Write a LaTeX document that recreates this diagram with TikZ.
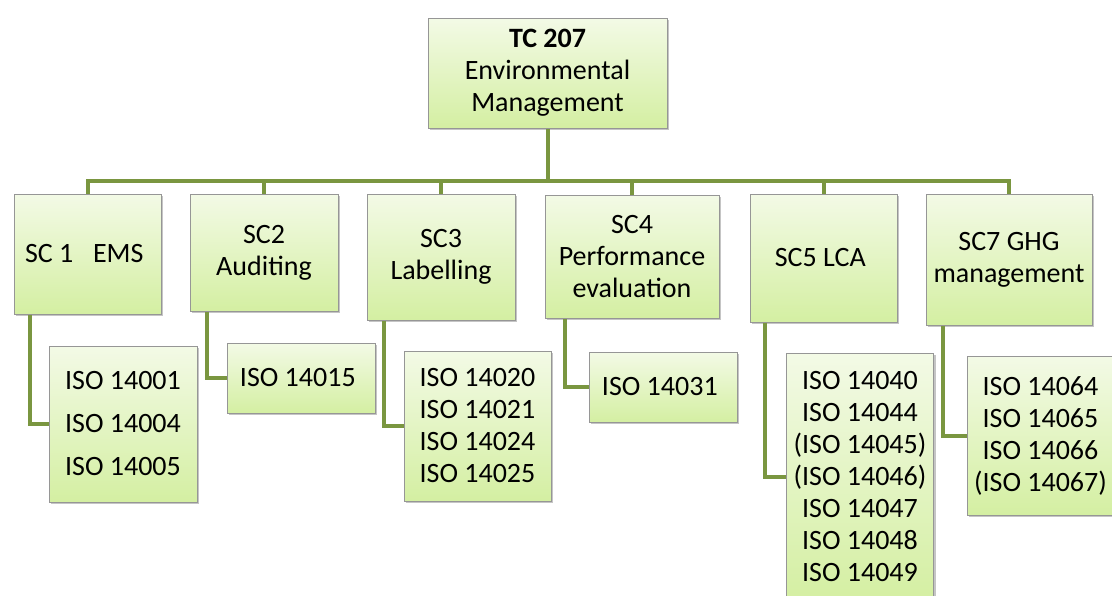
\documentclass[tikz,border=0pt]{standalone}
\usepackage{fontspec}
\setmainfont{Carlito}
\usepackage{tikz}
\usetikzlibrary{shadows, calc, positioning}

\definecolor{boxtop}{RGB}{243,250,230}
\definecolor{boxbot}{RGB}{212,239,162}
\definecolor{boxline}{RGB}{150,150,150}
\definecolor{linkgreen}{RGB}{122,150,64}

\begin{document}
\begin{tikzpicture}[x=1pt, y=-1pt,
        sbox/.style={draw=boxline, line width=1pt, top color=boxtop, bottom color=boxbot,
            drop shadow={shadow xshift=2pt, shadow yshift=-2pt, fill=black!45},
            align=center, inner sep=0pt, font=\fontsize{28}{32}\selectfont},
        link/.style={draw=linkgreen, line width=4pt}]
                \useasboundingbox (0,0) rectangle (1112,595);
                \clip (0,0) rectangle (1112,595);
                \fill [white] (0,0) rectangle (1112,595);

                % top of the tree
                \node [sbox, minimum width=239pt, minimum height=110pt] (tc) at (547.5,73) { \textbf{TC 207}\\Environmental\\Management };

                % subcommittees
                \node [sbox, minimum width=147pt, minimum height=120pt] (sc1) at (87.5,254) { SC 1\hspace{0.7em}EMS };
                \node [sbox, minimum width=148pt, minimum height=117pt] (sc2) at (264,252.5) { SC2\\Auditing };
                \node [sbox, minimum width=148pt, minimum height=126pt] (sc3) at (441,257) { SC3\\Labelling };
                \node [sbox, minimum width=174pt, minimum height=123pt] (sc4) at (632,256.5) { SC4\\Performance\\evaluation };
                \node [sbox, minimum width=147pt, minimum height=128pt] (sc5) at (823.5,258) { SC5 LCA };
                \node [sbox, minimum width=166pt, minimum height=131pt] (sc7) at (1009,259.5) { SC7 GHG\\management };

                % standards
                \node [sbox, minimum width=148pt, minimum height=156pt, font=\fontsize{28}{43}\selectfont] (iso1) at (123,424) { ISO 14001\\ISO 14004\\ISO 14005 };
                \node [sbox, minimum width=148pt, minimum height=70pt] (iso2) at (301,378) { ISO 14015 };
                \node [sbox, minimum width=147pt, minimum height=150pt] (iso3) at (477.5,426) { ISO 14020\\ISO 14021\\ISO 14024\\ISO 14025 };
                \node [sbox, minimum width=148pt, minimum height=70pt] (iso4) at (663,387) { ISO 14031 };
                \node [sbox, minimum width=147pt, minimum height=248pt] (iso5) at (860,477) { ISO 14040\\ISO 14044\\(ISO 14045)\\(ISO 14046)\\ISO 14047\\ISO 14048\\ISO 14049 };
                \node [sbox, minimum width=147pt, minimum height=159pt] (iso7) at (1040.5,435.5) { ISO 14064\\ISO 14065\\ISO 14066\\(ISO 14067) };

                \coordinate (bus) at (547.5,181);
                \draw [link] (tc.south) -- (bus);
                \foreach \sc in {sc1, sc2, sc3, sc4, sc5, sc7}
                    \draw [link] (bus) -| (\sc.north);

                \draw [link] ($(sc1.south west)+(16,0)$) |- (iso1.west);
                \draw [link] ($(sc2.south west)+(17,0)$) |- (iso2.west);
                \draw [link] ($(sc3.south west)+(17,0)$) |- (iso3.west);
                \draw [link] ($(sc4.south west)+(20,0)$) |- (iso4.west);
                \draw [link] ($(sc5.south west)+(15,0)$) |- (iso5.west);
                \draw [link] ($(sc7.south west)+(17,0)$) |- (iso7.west);
            \end{tikzpicture}
\end{document}
